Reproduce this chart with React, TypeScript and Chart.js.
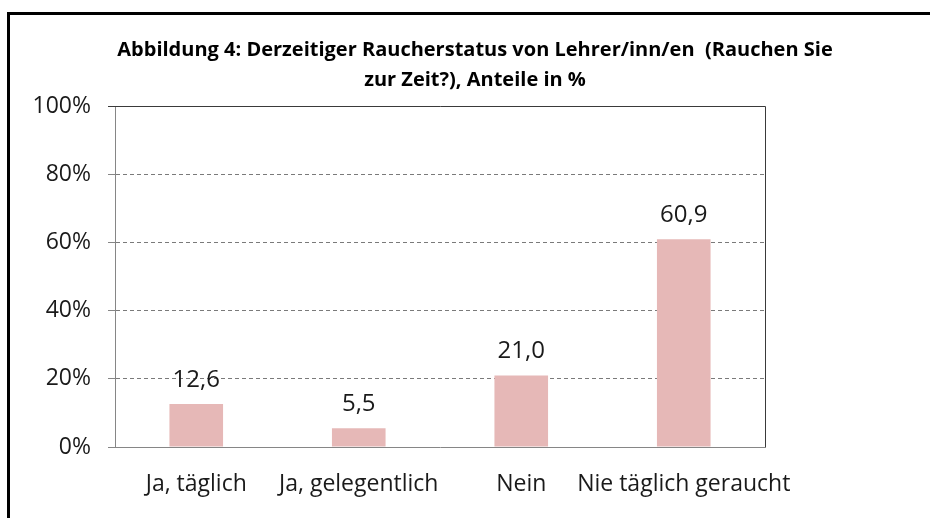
import React, { useEffect, useRef } from "react";
import { Chart, registerables } from "chart.js";

Chart.register(...registerables);

const categories = ["Ja, täglich", "Ja, gelegentlich", "Nein", "Nie täglich geraucht"];
const values = [12.6, 5.5, 21.0, 60.9];
const yMin = 0;
const yMax = 100;
const yStep = 20;
const titleLines = [
  "Abbildung 4: Derzeitiger Raucherstatus von Lehrer/inn/en  (Rauchen Sie",
  "zur Zeit?), Anteile in %",
];

const BAR_COLOR = "#E6B8B7";
const TEXT_COLOR = "#1a1a1a";
const FONT = "'Open Sans', 'DejaVu Sans', sans-serif";

const fmt = (v: number) => v.toFixed(1).replace(".", ",");

const framePlugin = {
  id: "plotFrame",
  afterDatasetsDraw(chart: any) {
    const { ctx, chartArea } = chart;
    ctx.save();
    ctx.strokeStyle = "#3a3a3a";
    ctx.lineWidth = 1;
    ctx.beginPath();
    ctx.moveTo(chartArea.left, Math.round(chartArea.top) + 0.5);
    ctx.lineTo(Math.round(chartArea.right) + 0.5, Math.round(chartArea.top) + 0.5);
    ctx.lineTo(Math.round(chartArea.right) + 0.5, chartArea.bottom);
    ctx.stroke();
    ctx.restore();
  },
};

const labelPlugin = {
  id: "valueLabels",
  afterDatasetsDraw(chart: any) {
    const { ctx } = chart;
    const meta = chart.getDatasetMeta(0);
    ctx.save();
    ctx.font = `24px ${FONT}`;
    ctx.fillStyle = TEXT_COLOR;
    ctx.textAlign = "center";
    ctx.textBaseline = "middle";
    meta.data.forEach((bar: any, i: number) => {
      ctx.fillText(fmt(values[i]), bar.x, bar.y - 24);
    });
    ctx.restore();
  },
};

export default function App() {
  const ref = useRef<HTMLCanvasElement | null>(null);

  useEffect(() => {
    if (!ref.current) return;
    const chart = new Chart(ref.current, {
      type: "bar",
      data: {
        labels: categories,
        datasets: [
          {
            data: values,
            backgroundColor: BAR_COLOR,
            borderWidth: 0,
            barPercentage: 0.33,
            categoryPercentage: 1,
          },
        ],
      },
      options: {
        responsive: false,
        animation: false,
        devicePixelRatio: 1,
        layout: { padding: 0 },
        plugins: {
          legend: { display: false },
          tooltip: { enabled: false },
          title: {
            display: true,
            text: titleLines,
            color: "#000",
            font: { family: FONT, size: 20, weight: "bold", lineHeight: 1.5 },
            padding: { top: 20, bottom: 11 },
          },
        },
        scales: {
          x: {
            grid: { display: false, drawTicks: false },
            border: { display: true, color: "#868686", width: 1 },
            ticks: {
              color: TEXT_COLOR,
              font: { family: FONT, size: 23 },
              padding: 24,
              maxRotation: 0,
              autoSkip: false,
            },
            afterFit(scale: any) {
              scale.height = 71;
            },
          },
          y: {
            min: yMin,
            max: yMax,
            grid: {
              color: (c: any) =>
                c.tick && (c.tick.value === yMin || c.tick.value === yMax) ? "rgba(0,0,0,0)" : "#7a7a7a",
              tickColor: (c: any) => (c.tick && c.tick.value === yMax ? "#3a3a3a" : "#868686"),
              tickLength: 7,
              drawTicks: true,
              lineWidth: 1,
            },
            border: { display: true, color: "#868686", width: 1, dash: [4, 3] },
            ticks: {
              stepSize: yStep,
              color: TEXT_COLOR,
              font: { family: FONT, size: 23 },
              padding: 17,
              callback: (v: any) => `${v}%`,
            },
            afterFit(scale: any) {
              scale.width = 105;
            },
          },
          yR: {
            type: "linear",
            position: "right",
            display: true,
            grid: { display: false, drawTicks: false },
            border: { display: false },
            ticks: { display: false },
            afterFit(scale: any) {
              scale.width = 175;
            },
          },
        },
      },
      plugins: [framePlugin, labelPlugin],
    } as any);
    return () => chart.destroy();
  }, []);

  return (
    <div
      style={{
        position: "fixed",
        left: 0,
        top: 0,
        width: 930,
        height: 518,
        overflow: "hidden",
        background: "#fff",
      }}
    >
      <div
        style={{
          position: "absolute",
          left: 7,
          top: 12,
          width: 960,
          height: 540,
          borderLeft: "3px solid #000",
          borderTop: "3px solid #000",
        }}
      />
      <div style={{ position: "absolute", left: 10, top: 15, width: 930, height: 503 }}>
        <canvas ref={ref} width={930} height={503} style={{ width: 930, height: 503, display: "block" }} />
      </div>
    </div>
  );
}
